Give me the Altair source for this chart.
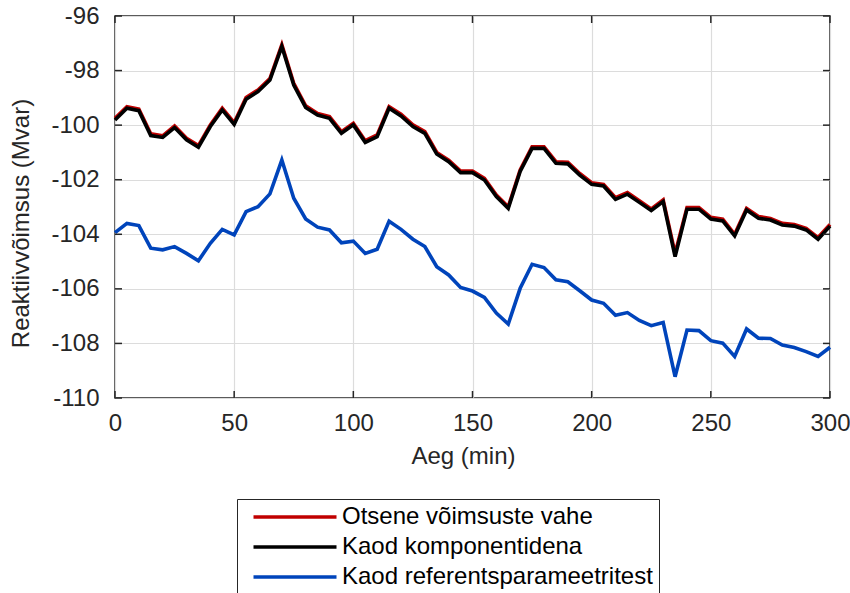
import altair as alt
import pandas as pd

time_min = [0, 5, 10, 15, 20, 25, 30, 35, 40, 45, 50, 55, 60, 65, 70, 75, 80, 85, 90, 95,
            100, 105, 110, 115, 120, 125, 130, 135, 140, 145, 150, 155, 160, 165, 170, 175,
            180, 185, 190, 195, 200, 205, 210, 215, 220, 225, 230, 235, 240, 245, 250, 255,
            260, 265, 270, 275, 280, 285, 290, 295, 300]

otsene = [-99.75, -99.32, -99.41, -100.32, -100.39, -100.03, -100.48, -100.75, -99.99, -99.38,
          -99.91, -98.99, -98.71, -98.29, -97.05, -98.47, -99.29, -99.57, -99.69, -100.24,
          -99.93, -100.57, -100.36, -99.32, -99.60, -99.99, -100.24, -101.00, -101.28, -101.68,
          -101.68, -101.95, -102.56, -102.99, -101.64, -100.79, -100.79, -101.34, -101.36, -101.77,
          -102.11, -102.17, -102.66, -102.47, -102.77, -103.07, -102.74, -104.70, -103.02, -103.02,
          -103.38, -103.45, -104.00, -103.05, -103.35, -103.42, -103.60, -103.64, -103.78, -104.12,
          -103.64]

komponendid = [-99.81, -99.38, -99.47, -100.38, -100.45, -100.09, -100.54, -100.81, -100.05, -99.44,
               -99.97, -99.05, -98.77, -98.35, -97.12, -98.53, -99.35, -99.63, -99.75, -100.30,
               -99.99, -100.63, -100.42, -99.38, -99.66, -100.05, -100.30, -101.06, -101.34, -101.74,
               -101.74, -102.01, -102.62, -103.05, -101.70, -100.85, -100.85, -101.40, -101.42, -101.83,
               -102.17, -102.23, -102.72, -102.53, -102.83, -103.13, -102.80, -104.82, -103.08, -103.08,
               -103.44, -103.51, -104.06, -103.11, -103.41, -103.48, -103.66, -103.70, -103.84, -104.18,
               -103.70]

referents = [-103.94, -103.60, -103.68, -104.51, -104.57, -104.45, -104.70, -104.97, -104.33, -103.82,
             -104.02, -103.17, -102.99, -102.52, -101.28, -102.68, -103.44, -103.74, -103.84, -104.31,
             -104.25, -104.70, -104.55, -103.52, -103.82, -104.18, -104.45, -105.19, -105.49, -105.95,
             -106.08, -106.31, -106.89, -107.29, -105.98, -105.10, -105.22, -105.67, -105.74, -106.07,
             -106.41, -106.53, -106.97, -106.87, -107.16, -107.35, -107.23, -109.22, -107.51, -107.53,
             -107.90, -107.99, -108.48, -107.47, -107.81, -107.82, -108.06, -108.15, -108.30, -108.48,
             -108.14]

series_names = ["Otsene võimsuste vahe", "Kaod komponentidena", "Kaod referentsparameetritest"]
series_colors = ["#C00000", "#000000", "#0044BB"]

x_ticks = [0, 50, 100, 150, 200, 250, 300]
y_ticks = [-110, -108, -106, -104, -102, -100, -98, -96]

rows = []
for name, vals in zip(series_names, [otsene, komponendid, referents]):
    for t, v in zip(time_min, vals):
        rows.append({"t": t, "v": v, "series": name})
df = pd.DataFrame(rows)

W, H = 715, 382
FONT = "Liberation Sans"
DARK = "#262626"

x_scale = alt.Scale(domain=[0, 300], nice=False, zero=False)
y_scale = alt.Scale(domain=[-110, -96], nice=False, zero=False)

x_axis = alt.Axis(title="Aeg (min)", values=x_ticks, grid=True, ticks=False, tickSize=0,
                  domain=False, labelPadding=13, titlePadding=9, labelFlush=False,
                  titleX=348, labelExpr="'' + datum.value")
y_axis = alt.Axis(title="Reaktiivvõimsus (Mvar)", values=y_ticks, grid=True, ticks=False,
                  tickSize=0, domain=False, labelPadding=16, titlePadding=17, labelFlush=False,
                  titleY=207, labelExpr="'' + datum.value")

lines = alt.Chart(df).mark_line(strokeWidth=3.6, strokeJoin="miter").encode(
    x=alt.X("t:Q", scale=x_scale, axis=x_axis),
    y=alt.Y("v:Q", scale=y_scale, axis=y_axis),
    color=alt.Color("series:N",
                    scale=alt.Scale(domain=series_names, range=series_colors),
                    sort=series_names,
                    legend=alt.Legend(title=None, orient="none", legendX=122, legendY=483,
                                      symbolType="M-4.15,0H4.15", symbolSize=400,
                                      symbolStrokeWidth=3.5, symbolOffset=40,
                                      labelOffset=35, labelFontSize=24, labelFont=FONT,
                                      labelColor="#000000", labelLimit=400,
                                      strokeColor=DARK, fillColor="white", padding=6,
                                      rowPadding=6, cornerRadius=0)),
    detail="series:N",
)

xt = pd.DataFrame({"xt": x_ticks})
yt = pd.DataFrame({"yt": y_ticks})
tick_color = DARK

x_bottom = alt.Chart(xt).mark_rule(color=tick_color, strokeWidth=1.5).encode(
    x=alt.X("xt:Q", scale=x_scale, axis=x_axis), y=alt.value(H), y2=alt.value(H - 7))
x_top = alt.Chart(xt).mark_rule(color=tick_color, strokeWidth=1.5).encode(
    x=alt.X("xt:Q", scale=x_scale, axis=x_axis), y=alt.value(0), y2=alt.value(7))
y_left = alt.Chart(yt).mark_rule(color=tick_color, strokeWidth=1.5).encode(
    y=alt.Y("yt:Q", scale=y_scale, axis=y_axis), x=alt.value(0), x2=alt.value(7))
y_right = alt.Chart(yt).mark_rule(color=tick_color, strokeWidth=1.5).encode(
    y=alt.Y("yt:Q", scale=y_scale, axis=y_axis), x=alt.value(W), x2=alt.value(W - 7))

chart = alt.layer(lines, x_bottom, x_top, y_left, y_right).properties(
    width=W, height=H,
    padding={"left": 115, "top": 16, "right": 20, "bottom": 195},
    autosize=alt.AutoSizeParams(type="none"),
    background="white",
).configure_view(
    stroke=DARK, strokeWidth=1.5
).configure_axis(
    labelFont=FONT, labelFontSize=24, labelColor=DARK,
    titleFont=FONT, titleFontSize=24, titleColor=DARK, titleFontWeight="normal",
    gridColor="#DCDCDC", gridWidth=1.2,
)

chart.save("out.html", embed_options={"renderer": "svg", "actions": False})
